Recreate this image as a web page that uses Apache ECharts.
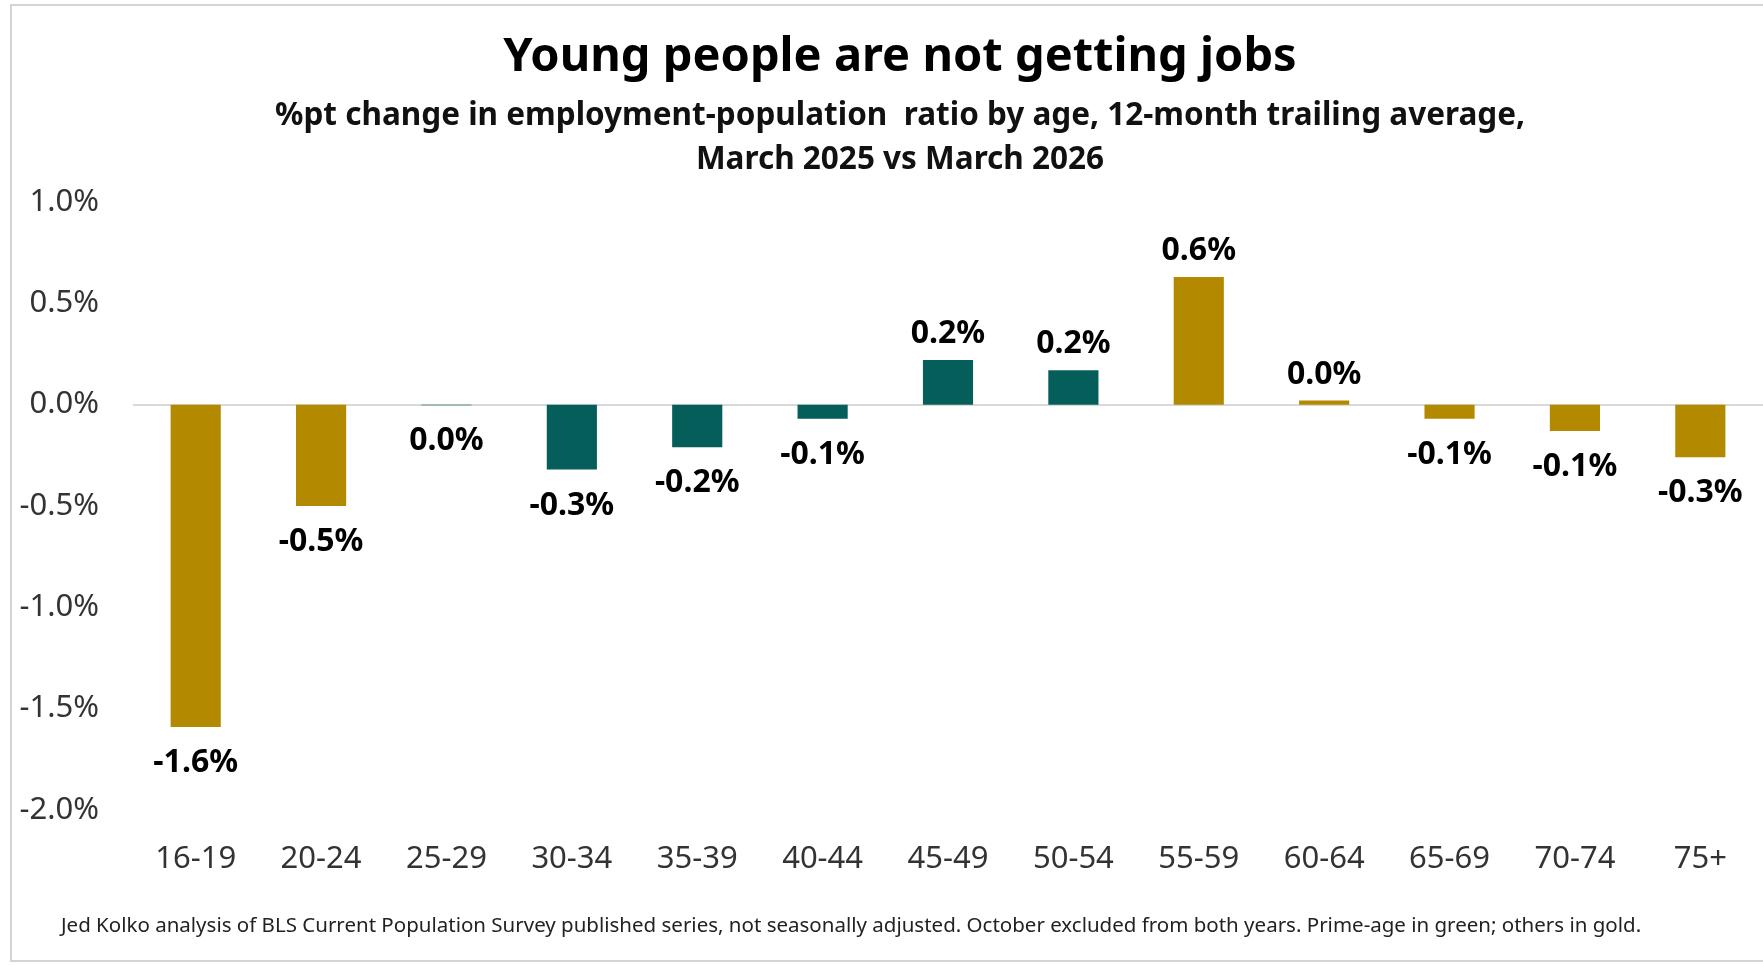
<!DOCTYPE html>
<html>
<head>
<meta charset="utf-8">
<script src="https://cdn.jsdelivr.net/npm/echarts@6/dist/echarts.min.js"></script>
<style>
  html, body { margin: 0; padding: 0; background: #ffffff; }
  #chart { width: 1763px; height: 965px; }
</style>
</head>
<body>
<div id="chart"></div>
<script>
// Age groups along the x axis
const ageGroups = ['16-19', '20-24', '25-29', '30-34', '35-39', '40-44', '45-49',
                   '50-54', '55-59', '60-64', '65-69', '70-74', '75+'];
// %pt change in employment-population ratio, March 2025 vs March 2026
const ratioChange = [-1.59, -0.50, -0.003, -0.32, -0.21, -0.07, 0.22,
                     0.17, 0.63, 0.02, -0.07, -0.13, -0.26];
// Prime-age groups (25-54) are coloured green, all others gold
const primeAge = [false, false, true, true, true, true, true,
                  true, false, false, false, false, false];
// Value axis ticks
const yMin = -2.0, yMax = 1.0, yStep = 0.5;

const GOLD = '#B38900';
const GREEN = '#065E5A';

function fmtPct(v, digits) {
  let s = v.toFixed(digits);
  if (/^-0\.0+$/.test(s)) s = s.slice(1);
  return s + '%';
}

const barData = ratioChange.map((v, i) => ({
  value: v,
  itemStyle: { color: primeAge[i] ? GREEN : GOLD },
  label: { position: v < 0 ? 'bottom' : 'top', distance: v < 0 ? 20 : 10 }
}));

const chart = echarts.init(document.getElementById('chart'), null, { renderer: 'canvas' });

chart.setOption({
  backgroundColor: '#ffffff',
  animation: false,
  textStyle: { fontFamily: 'Noto Sans' },
  title: [
    {
      text: 'Young people are not getting jobs',
      left: 895, top: 29, textAlign: 'center',
      textStyle: { fontSize: 47, fontWeight: 'bold', color: '#000000', fontFamily: 'Noto Sans' }
    },
    {
      text: '%pt change in employment-population  ratio by age, 12-month trailing average,\nMarch 2025 vs March 2026',
      left: 895, top: 89, textAlign: 'center',
      textStyle: { fontSize: 31.5, fontWeight: 'bold', color: '#111111', lineHeight: 44, fontFamily: 'Noto Sans' }
    },
    {
      text: 'Jed Kolko analysis of BLS Current Population Survey published series, not seasonally adjusted. October excluded from both years. Prime-age in green; others in gold.',
      left: 56, top: 911,
      textStyle: { fontSize: 20.5, fontWeight: 'normal', color: '#222222', fontFamily: 'Noto Sans' }
    }
  ],
  graphic: [
    {
      type: 'rect', silent: true, z: -1,
      shape: { x: 11, y: 5, width: 1800, height: 956 },
      style: { fill: 'none', stroke: '#d4d4d4', lineWidth: 2 }
    }
  ],
  grid: { left: 133, width: 1633, top: 202, bottom: 155, containLabel: false },
  xAxis: {
    type: 'category',
    data: ageGroups,
    position: 'bottom',
    axisLine: { show: false },
    axisTick: { show: false },
    axisLabel: { margin: 34, fontSize: 31, color: '#333333', fontFamily: 'Noto Sans' },
    splitLine: { show: false }
  },
  yAxis: {
    type: 'value',
    min: yMin, max: yMax, interval: yStep,
    axisLine: { show: false },
    axisTick: { show: false },
    splitLine: { show: false },
    axisLabel: {
      margin: 34, fontSize: 31, color: '#333333', fontFamily: 'Noto Sans',
      formatter: v => fmtPct(v, 1)
    }
  },
  series: [
    {
      type: 'bar',
      data: barData,
      barWidth: '40%',
      label: {
        show: true,
        fontSize: 32, fontWeight: 'bold', color: '#000000', fontFamily: 'Noto Sans',
        formatter: p => fmtPct(p.value, 1)
      },
      markLine: {
        silent: true, symbol: 'none', z: 1,
        label: { show: false },
        lineStyle: { color: '#d9d9d9', width: 2, type: 'solid' },
        data: [{ yAxis: 0 }]
      }
    }
  ]
});
</script>
</body>
</html>
